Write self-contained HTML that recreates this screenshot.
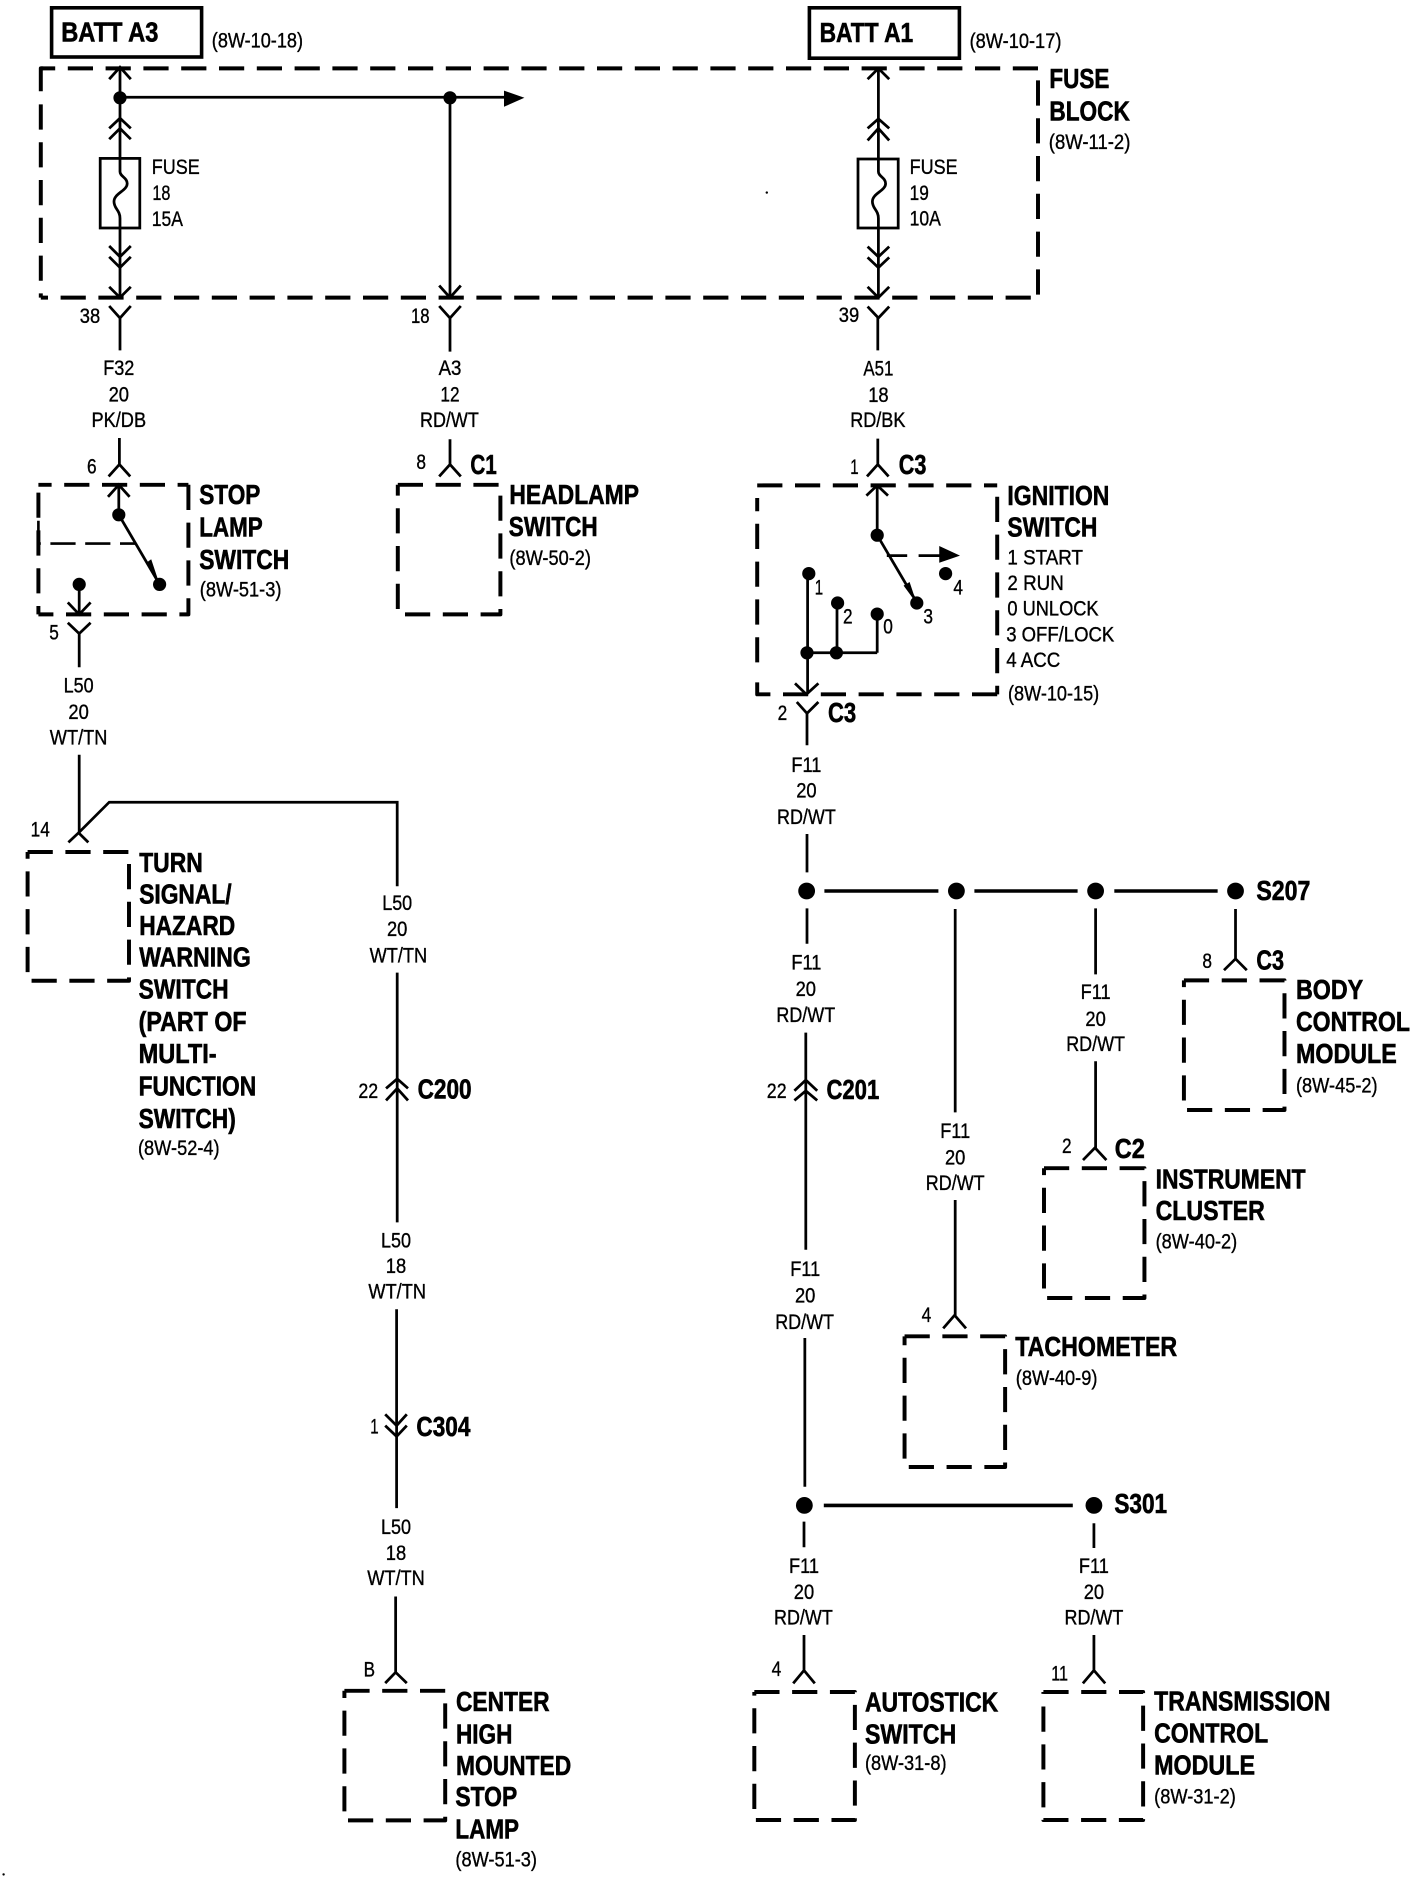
<!DOCTYPE html>
<html lang="en">
<head>
<meta charset="utf-8">
<title>Wiring diagram</title>
<style>
html,body{margin:0;padding:0;background:#fff;width:1424px;height:1880px;overflow:hidden}
svg{display:block}
text{font-family:"Liberation Sans",sans-serif;fill:#000;stroke:none}
.b{font-weight:700;font-size:23px;stroke:#000;stroke-width:.5px}
.r{font-size:17.5px;stroke:#000;stroke-width:.3px}
.m{text-anchor:middle}
.w{fill:none;stroke:#000;stroke-width:2.3;stroke-linecap:butt;stroke-linejoin:miter}
.d{fill:none;stroke:#000;stroke-width:3.3;stroke-dasharray:21 10.5;stroke-linejoin:round}
.f{fill:#000;stroke:none}
</style>
</head>
<body>
<svg xmlns="http://www.w3.org/2000/svg" width="1424" height="1880" viewBox="0 0 1186.667 1566.667" lang="en">
<rect width="1186.667" height="1566.667" fill="#fff"/>

<!-- BATT boxes -->
<rect x="43" y="6.5" width="125" height="41" fill="none" stroke="#000" stroke-width="3"/>
<rect x="674.5" y="6.5" width="125" height="42" fill="none" stroke="#000" stroke-width="3"/>

<!-- Fuse block dashed -->
<path class="d" d="M865 57H34"/>
<path class="d" d="M865 67V248"/>
<path class="d" d="M859 248H34"/>
<path class="d" d="M34 87V248"/>
<path class="d" d="M34 76V57H45"/>

<!-- Component dashed boxes -->
<path class="d" style="stroke-dashoffset:12" d="M157 404H32"/>
<path class="d" d="M157 404V512H32"/>
<path class="d" style="stroke-dashoffset:14" d="M32 512V404"/>
<path class="d" style="stroke-width:2.2;stroke-dasharray:21 8" d="M32 434V453H113"/>
<path class="d" d="M331.5 404H417V512H331.5V404"/>
<path class="d" d="M631 404.5H831"/>
<path class="d" d="M831 414V578.6"/>
<path class="d" d="M831 578.6H631V560"/>
<path class="d" d="M631 552V415"/>
<path class="d" d="M23 710H107.500V817.300H23V710"/>
<path class="d" d="M287 1409H371V1517H287V1409"/>
<path class="d" d="M986.600 817H1070.400V925H986.600V817"/>
<path class="d" d="M870 973.500H953.700V1081.700H870V973.500"/>
<path class="d" d="M753.800 1113.600H837.600V1222.500H753.800V1113.600"/>
<path class="d" d="M628.600 1410H712.400V1516.700H628.600V1410"/>
<path class="d" d="M869.500 1410H952.600V1516.700H869.500V1410"/>

<!-- Left fuse circuit -->
<g class="w">
<path d="M100 56V132M100 190V248"/>
<path d="M91 66L100 56L109 66"/>
<path d="M91 107L100 98.500L109 107M91 116L100 107L109 116"/>
<rect x="83.500" y="132" width="33" height="58"/>
<path d="M100 132V143C100 147 106 148 106 153C106 159 95 161 95 168C95 174 100 175 100 182V190"/>
<path d="M91 205L100 214L109 205M91 214L100 223L109 214"/>
<path d="M91 239L100 248L109 239"/>
<path d="M91 255L100 265L109 255M100 265V292"/>
<path d="M100 81H420"/>
<path d="M375 81V248"/>
<path d="M366 238L375 248L384 238"/>
<path d="M366 255L375 265L384 255M375 265V293"/>
<!-- stop lamp -->
<path d="M99.500 365V387M90.500 397L99.500 387L108.500 397"/>
<path d="M99 404V429M90 414L99 404L108 414"/>
<path d="M99 429L133 487"/>
<path d="M66 487V512M56.500 502L66 512L75.500 502"/>
<path d="M56.500 519L66 528L75.500 519M66 528V556"/>
<!-- headlamp -->
<path d="M375 366V387M366 397L375 387L384 397"/>
</g>
<path class="f" d="M420 75.500L437 81.500L420 89Z"/>
<circle class="f" cx="100" cy="81.500" r="5.500"/>
<circle class="f" cx="375" cy="81.500" r="5.500"/>
<circle class="f" cx="99" cy="429" r="5.500"/>
<circle class="f" cx="133" cy="487" r="5.500"/>
<circle class="f" cx="66" cy="487" r="5.500"/>
<path class="f" d="M122 469L133 487L126 466Z"/>

<!-- Right fuse circuit -->
<g class="w">
<path d="M732 57V132M732 190V248"/>
<path d="M723 66L732 57L741 66"/>
<path d="M723 107L732 99L741 107M723 117L732 107L741 117"/>
<rect x="715" y="132.500" width="33.500" height="57.500"/>
<path d="M732 132V143C732 147 738 148 738 153C738 159 727 161 727 168C727 174 732 175 732 182V190"/>
<path d="M723 205.500L732 214L741 205.500M723 214.500L732 223L741 214.500"/>
<path d="M723 239L732 248L741 239"/>
<path d="M723 255.500L732 265L741 255.500M731.500 265V292"/>
<path d="M731.500 365.500V387M722.500 397L731.500 387L740.500 397"/>
<path d="M731 404.500V446M722 413L731 404.500L740 413"/>
<path d="M731 446L764 502"/>
<path d="M739 463H756M765.500 463H783"/>
<path d="M673 478V578M697.500 502.500V544M731 511.700V544M672 544H731"/>
<path d="M662.500 569.500L672 578.600L682 569.500"/>
<path d="M664 585L672.500 594.500L682 585M672.500 594.500V621"/>
<path d="M672.500 695V727M672.500 757V786.500"/>
<path d="M671.500 860.500V1041.500M662 909L671.500 900L681 909M662 917L671.500 909L681 917"/>
<path d="M670.700 1115V1239M670 1268V1289.400"/>
<path d="M796 757.500V927M796 1000V1096M786 1107L795.500 1096L805 1107"/>
<path d="M913 757V812M913 884.400V956.500M902.500 966.700L912.500 956.500L922 966.700"/>
<path d="M1029.600 757.500V799M1020 808.500L1029.600 799L1039 808.500"/>
<path d="M911.600 1269.400V1290"/>
<path d="M670 1362.500V1392M661 1402.800L670 1392L679 1402.800"/>
<path d="M911.600 1362.500V1392M902.400 1402.800L911.600 1392L921 1402.800"/>
</g>
<g class="w" style="stroke-width:3">
<path d="M687 742.500H782M812 742.500H898M928.600 742.500H1014.700"/>
<path d="M686.500 1254.500H894"/>
</g>
<path class="f" d="M782.700 455L800 463L782.700 469Z"/>
<path class="f" d="M753 488L764 503L758 485Z"/>
<circle class="f" cx="731" cy="446" r="5.500"/>
<circle class="f" cx="764" cy="502.500" r="5.500"/>
<circle class="f" cx="788" cy="478" r="5.500"/>
<circle class="f" cx="674" cy="478" r="5.500"/>
<circle class="f" cx="698" cy="502.500" r="5.500"/>
<circle class="f" cx="731" cy="511.700" r="5.500"/>
<circle class="f" cx="672.500" cy="544" r="5.500"/>
<circle class="f" cx="697" cy="544" r="5.500"/>
<circle class="f" cx="672.200" cy="742.500" r="7"/>
<circle class="f" cx="797" cy="742.500" r="7"/>
<circle class="f" cx="913" cy="742.500" r="7"/>
<circle class="f" cx="1029.600" cy="742.500" r="7"/>
<circle class="f" cx="670.300" cy="1254.500" r="7"/>
<circle class="f" cx="911.600" cy="1254.500" r="7"/>
<circle class="f" cx="639" cy="160.500" r="1"/>
<circle class="f" cx="3" cy="1562" r="1"/>

<!-- Left column lower wires -->
<g class="w">
<path d="M66 629V694M57 702L65.500 694L73.600 702"/>
<path d="M65.500 694L91 668.500H331V738.500"/>
<path d="M331 810.500V1018.600"/>
<path d="M321.700 907L331 899L340 907M321.700 917L331 907L340 917"/>
<path d="M330.500 1091V1256.800"/>
<path d="M321 1178.600L330.500 1188L339 1178.600M321 1188L330.500 1197L339 1188"/>
<path d="M329.700 1330.400V1393.600M321 1402.600L329.700 1393.600L339 1402.600"/>
</g>

<!-- Bold labels -->
<text class="b" x="51" y="34.500" textLength="81" lengthAdjust="spacingAndGlyphs">BATT A3</text>
<text class="b" x="683" y="35" textLength="78" lengthAdjust="spacingAndGlyphs">BATT A1</text>
<text class="b" x="874.500" y="73.500" textLength="50" lengthAdjust="spacingAndGlyphs">FUSE</text>
<text class="b" x="874.500" y="100.500" textLength="67" lengthAdjust="spacingAndGlyphs">BLOCK</text>
<text class="b" x="166" y="420" textLength="51" lengthAdjust="spacingAndGlyphs">STOP</text>
<text class="b" x="166" y="447" textLength="53" lengthAdjust="spacingAndGlyphs">LAMP</text>
<text class="b" x="166" y="474" textLength="75" lengthAdjust="spacingAndGlyphs">SWITCH</text>
<text class="b" x="392" y="395" textLength="22" lengthAdjust="spacingAndGlyphs">C1</text>
<text class="b" x="424.500" y="420" textLength="108" lengthAdjust="spacingAndGlyphs">HEADLAMP</text>
<text class="b" x="424" y="446.500" textLength="74" lengthAdjust="spacingAndGlyphs">SWITCH</text>
<text class="b" x="749" y="395" textLength="23" lengthAdjust="spacingAndGlyphs">C3</text>
<text class="b" x="839.500" y="421" textLength="85" lengthAdjust="spacingAndGlyphs">IGNITION</text>
<text class="b" x="839.500" y="447" textLength="75" lengthAdjust="spacingAndGlyphs">SWITCH</text>
<text class="b" x="690" y="601.500" textLength="23.500" lengthAdjust="spacingAndGlyphs">C3</text>
<text class="b" x="116" y="726.500" textLength="53" lengthAdjust="spacingAndGlyphs">TURN</text>
<text class="b" x="116" y="753" textLength="77" lengthAdjust="spacingAndGlyphs">SIGNAL/</text>
<text class="b" x="116" y="779" textLength="80" lengthAdjust="spacingAndGlyphs">HAZARD</text>
<text class="b" x="116" y="805.500" textLength="93" lengthAdjust="spacingAndGlyphs">WARNING</text>
<text class="b" x="115.500" y="832" textLength="75" lengthAdjust="spacingAndGlyphs">SWITCH</text>
<text class="b" x="115.500" y="859" textLength="90" lengthAdjust="spacingAndGlyphs">(PART OF</text>
<text class="b" x="115.500" y="886" textLength="65" lengthAdjust="spacingAndGlyphs">MULTI-</text>
<text class="b" x="115.500" y="913" textLength="98" lengthAdjust="spacingAndGlyphs">FUNCTION</text>
<text class="b" x="115.500" y="940" textLength="81" lengthAdjust="spacingAndGlyphs">SWITCH)</text>
<text class="b" x="348" y="915.500" textLength="45" lengthAdjust="spacingAndGlyphs">C200</text>
<text class="b" x="347" y="1196.500" textLength="45" lengthAdjust="spacingAndGlyphs">C304</text>
<text class="b" x="380" y="1426" textLength="78" lengthAdjust="spacingAndGlyphs">CENTER</text>
<text class="b" x="380" y="1452.800" textLength="47" lengthAdjust="spacingAndGlyphs">HIGH</text>
<text class="b" x="380" y="1479" textLength="96" lengthAdjust="spacingAndGlyphs">MOUNTED</text>
<text class="b" x="379.500" y="1505" textLength="51.500" lengthAdjust="spacingAndGlyphs">STOP</text>
<text class="b" x="379.500" y="1532" textLength="53" lengthAdjust="spacingAndGlyphs">LAMP</text>
<text class="b" x="1047" y="750" textLength="45" lengthAdjust="spacingAndGlyphs">S207</text>
<text class="b" x="1047" y="808" textLength="23" lengthAdjust="spacingAndGlyphs">C3</text>
<text class="b" x="1080" y="832.500" textLength="56" lengthAdjust="spacingAndGlyphs">BODY</text>
<text class="b" x="1080" y="859" textLength="95" lengthAdjust="spacingAndGlyphs">CONTROL</text>
<text class="b" x="1080" y="886" textLength="84" lengthAdjust="spacingAndGlyphs">MODULE</text>
<text class="b" x="688.700" y="915.700" textLength="44" lengthAdjust="spacingAndGlyphs">C201</text>
<text class="b" x="929" y="965" textLength="25" lengthAdjust="spacingAndGlyphs">C2</text>
<text class="b" x="963" y="990.500" textLength="125" lengthAdjust="spacingAndGlyphs">INSTRUMENT</text>
<text class="b" x="963" y="1016.700" textLength="91" lengthAdjust="spacingAndGlyphs">CLUSTER</text>
<text class="b" x="846" y="1130" textLength="135" lengthAdjust="spacingAndGlyphs">TACHOMETER</text>
<text class="b" x="928.600" y="1261" textLength="44" lengthAdjust="spacingAndGlyphs">S301</text>
<text class="b" x="720.800" y="1426.400" textLength="111" lengthAdjust="spacingAndGlyphs">AUTOSTICK</text>
<text class="b" x="720.800" y="1452.800" textLength="76" lengthAdjust="spacingAndGlyphs">SWITCH</text>
<text class="b" x="961.800" y="1425.600" textLength="147" lengthAdjust="spacingAndGlyphs">TRANSMISSION</text>
<text class="b" x="961.800" y="1452" textLength="95" lengthAdjust="spacingAndGlyphs">CONTROL</text>
<text class="b" x="961.800" y="1478.600" textLength="84" lengthAdjust="spacingAndGlyphs">MODULE</text>

<!-- References -->
<text class="r" x="176.500" y="39.500" textLength="76" lengthAdjust="spacingAndGlyphs">(8W-10-18)</text>
<text class="r" x="808" y="40" textLength="76.500" lengthAdjust="spacingAndGlyphs">(8W-10-17)</text>
<text class="r" x="874" y="124" textLength="68" lengthAdjust="spacingAndGlyphs">(8W-11-2)</text>
<text class="r" x="166.500" y="497" textLength="68" lengthAdjust="spacingAndGlyphs">(8W-51-3)</text>
<text class="r" x="424.500" y="471" textLength="68" lengthAdjust="spacingAndGlyphs">(8W-50-2)</text>
<text class="r" x="840" y="583.600" textLength="76" lengthAdjust="spacingAndGlyphs">(8W-10-15)</text>
<text class="r" x="115" y="962.500" textLength="68" lengthAdjust="spacingAndGlyphs">(8W-52-4)</text>
<text class="r" x="379.500" y="1555.500" textLength="68" lengthAdjust="spacingAndGlyphs">(8W-51-3)</text>
<text class="r" x="1080" y="910.600" textLength="68" lengthAdjust="spacingAndGlyphs">(8W-45-2)</text>
<text class="r" x="963" y="1040.500" textLength="68" lengthAdjust="spacingAndGlyphs">(8W-40-2)</text>
<text class="r" x="846.500" y="1154" textLength="68" lengthAdjust="spacingAndGlyphs">(8W-40-9)</text>
<text class="r" x="720.800" y="1475" textLength="68" lengthAdjust="spacingAndGlyphs">(8W-31-8)</text>
<text class="r" x="961.800" y="1502.800" textLength="68" lengthAdjust="spacingAndGlyphs">(8W-31-2)</text>

<!-- Fuse text -->
<text class="r" x="126.500" y="145" textLength="40" lengthAdjust="spacingAndGlyphs">FUSE</text>
<text class="r" x="127" y="166.500" textLength="15" lengthAdjust="spacingAndGlyphs">18</text>
<text class="r" x="126.500" y="188.500" textLength="26" lengthAdjust="spacingAndGlyphs">15A</text>
<text class="r" x="758" y="145" textLength="40" lengthAdjust="spacingAndGlyphs">FUSE</text>
<text class="r" x="758" y="166.500" textLength="16" lengthAdjust="spacingAndGlyphs">19</text>
<text class="r" x="758" y="188" textLength="26" lengthAdjust="spacingAndGlyphs">10A</text>

<!-- Ignition list -->
<text class="r" x="839.500" y="470.500" textLength="63" lengthAdjust="spacingAndGlyphs">1 START</text>
<text class="r" x="839.500" y="491.500" textLength="47" lengthAdjust="spacingAndGlyphs">2 RUN</text>
<text class="r" x="839.500" y="513" textLength="76" lengthAdjust="spacingAndGlyphs">0 UNLOCK</text>
<text class="r" x="838.500" y="534.500" textLength="90" lengthAdjust="spacingAndGlyphs">3 OFF/LOCK</text>
<text class="r" x="838.500" y="556" textLength="45" lengthAdjust="spacingAndGlyphs">4 ACC</text>

<!-- Pin numbers -->
<text class="r" x="66.500" y="269" textLength="17" lengthAdjust="spacingAndGlyphs">38</text>
<text class="r" x="342.500" y="269" textLength="15.500" lengthAdjust="spacingAndGlyphs">18</text>
<text class="r" x="699" y="268.500" textLength="17" lengthAdjust="spacingAndGlyphs">39</text>
<text class="r" x="72.500" y="394.500" textLength="8" lengthAdjust="spacingAndGlyphs">6</text>
<text class="r" x="41" y="533" textLength="8" lengthAdjust="spacingAndGlyphs">5</text>
<text class="r" x="347" y="391" textLength="8" lengthAdjust="spacingAndGlyphs">8</text>
<text class="r" x="708.500" y="395" textLength="7" lengthAdjust="spacingAndGlyphs">1</text>
<text class="r" x="794.500" y="495.600" textLength="8" lengthAdjust="spacingAndGlyphs">4</text>
<text class="r" x="769.500" y="519.700" textLength="8" lengthAdjust="spacingAndGlyphs">3</text>
<text class="r" x="679" y="495.600" textLength="7" lengthAdjust="spacingAndGlyphs">1</text>
<text class="r" x="702.500" y="519.700" textLength="8" lengthAdjust="spacingAndGlyphs">2</text>
<text class="r" x="736" y="528" textLength="8" lengthAdjust="spacingAndGlyphs">0</text>
<text class="r" x="648" y="600" textLength="8" lengthAdjust="spacingAndGlyphs">2</text>
<text class="r" x="25.500" y="697" textLength="16" lengthAdjust="spacingAndGlyphs">14</text>
<text class="r" x="298.600" y="915" textLength="16.500" lengthAdjust="spacingAndGlyphs">22</text>
<text class="r" x="639" y="915" textLength="16.500" lengthAdjust="spacingAndGlyphs">22</text>
<text class="r" x="308.500" y="1194.600" textLength="7" lengthAdjust="spacingAndGlyphs">1</text>
<text class="r" x="303" y="1397" textLength="9.500" lengthAdjust="spacingAndGlyphs">B</text>
<text class="r" x="1002" y="806.800" textLength="8" lengthAdjust="spacingAndGlyphs">8</text>
<text class="r" x="885" y="961" textLength="8" lengthAdjust="spacingAndGlyphs">2</text>
<text class="r" x="768" y="1101.700" textLength="8" lengthAdjust="spacingAndGlyphs">4</text>
<text class="r" x="643" y="1396.700" textLength="8" lengthAdjust="spacingAndGlyphs">4</text>
<text class="r" x="876" y="1400.500" textLength="14" lengthAdjust="spacingAndGlyphs">11</text>

<!-- Wire labels -->
<text class="r m" x="99" y="312.500" textLength="26" lengthAdjust="spacingAndGlyphs">F32</text>
<text class="r m" x="99" y="334.500" textLength="17" lengthAdjust="spacingAndGlyphs">20</text>
<text class="r m" x="99" y="356" textLength="45.500" lengthAdjust="spacingAndGlyphs">PK/DB</text>
<text class="r m" x="375" y="312.500" textLength="19" lengthAdjust="spacingAndGlyphs">A3</text>
<text class="r m" x="375" y="334.500" textLength="16" lengthAdjust="spacingAndGlyphs">12</text>
<text class="r m" x="374.500" y="356" textLength="49" lengthAdjust="spacingAndGlyphs">RD/WT</text>
<text class="r m" x="732" y="313" textLength="25" lengthAdjust="spacingAndGlyphs">A51</text>
<text class="r m" x="732" y="335" textLength="17" lengthAdjust="spacingAndGlyphs">18</text>
<text class="r m" x="731.500" y="356" textLength="46" lengthAdjust="spacingAndGlyphs">RD/BK</text>
<text class="r m" x="65.500" y="577" textLength="25" lengthAdjust="spacingAndGlyphs">L50</text>
<text class="r m" x="65.500" y="599" textLength="17" lengthAdjust="spacingAndGlyphs">20</text>
<text class="r m" x="65.500" y="620.500" textLength="48" lengthAdjust="spacingAndGlyphs">WT/TN</text>
<text class="r m" x="672" y="643.500" textLength="25" lengthAdjust="spacingAndGlyphs">F11</text>
<text class="r m" x="672" y="664.500" textLength="17" lengthAdjust="spacingAndGlyphs">20</text>
<text class="r m" x="672" y="686.500" textLength="49" lengthAdjust="spacingAndGlyphs">RD/WT</text>
<text class="r m" x="331" y="758.500" textLength="25" lengthAdjust="spacingAndGlyphs">L50</text>
<text class="r m" x="331" y="780" textLength="17" lengthAdjust="spacingAndGlyphs">20</text>
<text class="r m" x="332" y="802" textLength="48" lengthAdjust="spacingAndGlyphs">WT/TN</text>
<text class="r m" x="330" y="1039.500" textLength="25" lengthAdjust="spacingAndGlyphs">L50</text>
<text class="r m" x="330" y="1061" textLength="17" lengthAdjust="spacingAndGlyphs">18</text>
<text class="r m" x="331" y="1082" textLength="48" lengthAdjust="spacingAndGlyphs">WT/TN</text>
<text class="r m" x="330" y="1278.500" textLength="25" lengthAdjust="spacingAndGlyphs">L50</text>
<text class="r m" x="330" y="1300" textLength="17" lengthAdjust="spacingAndGlyphs">18</text>
<text class="r m" x="330" y="1321" textLength="48" lengthAdjust="spacingAndGlyphs">WT/TN</text>
<text class="r m" x="672" y="808" textLength="25" lengthAdjust="spacingAndGlyphs">F11</text>
<text class="r m" x="671.500" y="830" textLength="17" lengthAdjust="spacingAndGlyphs">20</text>
<text class="r m" x="671.500" y="851.500" textLength="49" lengthAdjust="spacingAndGlyphs">RD/WT</text>
<text class="r m" x="671" y="1063.500" textLength="25" lengthAdjust="spacingAndGlyphs">F11</text>
<text class="r m" x="671" y="1085.500" textLength="17" lengthAdjust="spacingAndGlyphs">20</text>
<text class="r m" x="670.500" y="1107.500" textLength="49" lengthAdjust="spacingAndGlyphs">RD/WT</text>
<text class="r m" x="796" y="948.500" textLength="25" lengthAdjust="spacingAndGlyphs">F11</text>
<text class="r m" x="796" y="970.500" textLength="17" lengthAdjust="spacingAndGlyphs">20</text>
<text class="r m" x="796" y="991.500" textLength="49" lengthAdjust="spacingAndGlyphs">RD/WT</text>
<text class="r m" x="913" y="832.500" textLength="25" lengthAdjust="spacingAndGlyphs">F11</text>
<text class="r m" x="913" y="855" textLength="17" lengthAdjust="spacingAndGlyphs">20</text>
<text class="r m" x="913" y="876" textLength="49" lengthAdjust="spacingAndGlyphs">RD/WT</text>
<text class="r m" x="670" y="1311" textLength="25" lengthAdjust="spacingAndGlyphs">F11</text>
<text class="r m" x="670" y="1332.500" textLength="17" lengthAdjust="spacingAndGlyphs">20</text>
<text class="r m" x="669.500" y="1353.600" textLength="49" lengthAdjust="spacingAndGlyphs">RD/WT</text>
<text class="r m" x="911.600" y="1311" textLength="25" lengthAdjust="spacingAndGlyphs">F11</text>
<text class="r m" x="911.600" y="1332.500" textLength="17" lengthAdjust="spacingAndGlyphs">20</text>
<text class="r m" x="911.600" y="1353.600" textLength="49" lengthAdjust="spacingAndGlyphs">RD/WT</text>
</svg>
</body>
</html>
